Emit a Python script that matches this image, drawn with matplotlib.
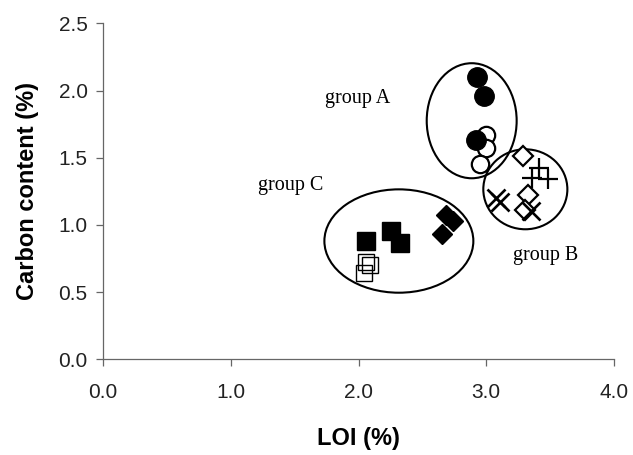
import matplotlib
matplotlib.use("Agg")
import matplotlib.pyplot as plt
from matplotlib.patches import Ellipse

# Data (LOI %, Carbon %)
a_filled_x = [2.925, 2.98, 2.92]
a_filled_y = [2.10, 1.96, 1.63]
a_open_x = [3.00, 3.00, 2.95]
a_open_y = [1.67, 1.57, 1.45]

b_diamond_x = [3.285, 3.33, 3.30]
b_diamond_y = [1.51, 1.22, 1.11]
b_plus_x = [3.413, 3.356, 3.486]
b_plus_y = [1.421, 1.351, 1.342]
b_cross_x = [3.08, 3.11, 3.35]
b_cross_y = [1.20, 1.17, 1.10]

c_fsq_x = [2.056, 2.252, 2.325]
c_fsq_y = [0.882, 0.957, 0.868]
c_fdia_x = [2.685, 2.742, 2.651]
c_fdia_y = [1.074, 1.031, 0.93]
c_osq_x = [2.058, 2.09, 2.04]
c_osq_y = [0.726, 0.70, 0.64]

# group ellipses: center x, center y, width, height
ell_centers_x = [2.886, 3.306, 2.316]
ell_centers_y = [1.775, 1.265, 0.880]
ell_widths = [0.704, 0.658, 1.166]
ell_heights = [0.856, 0.595, 0.769]

group_labels = ["group A", "group B", "group C"]
label_x = [1.74, 3.21, 1.21]
label_y = [1.94, 0.77, 1.29]

x_ticks = [0.0, 1.0, 2.0, 3.0, 4.0]
y_ticks = [0.0, 0.5, 1.0, 1.5, 2.0, 2.5]

fig = plt.figure(figsize=(6.33, 4.55), dpi=100)
ax = fig.add_axes([103/633, 1-359.3/455, (614-103)/633, (359.3-23.3)/455])
ax.set_xlim(0, 4)
ax.set_ylim(0, 2.5)

lw = 1.6
ax.plot(a_filled_x, a_filled_y, 'o', ms=14, mfc='black', mec='black', ls='none', zorder=4)
ax.plot(a_open_x, a_open_y, 'o', ms=12.5, mfc='white', mec='black', mew=lw, ls='none', zorder=3)
ax.plot(b_diamond_x, b_diamond_y, 'D', ms=10.5, mfc='white', mec='black', mew=lw, ls='none', zorder=3)
ax.plot(b_plus_x, b_plus_y, '+', ms=14, mec='black', mew=lw, ls='none', zorder=3)
ax.plot(b_cross_x, b_cross_y, 'x', ms=13, mec='black', mew=lw+0.3, ls='none', zorder=3)
ax.plot(c_fsq_x, c_fsq_y, 's', ms=12.5, mfc='black', mec='black', ls='none', zorder=3)
ax.plot(c_fdia_x, c_fdia_y, 'D', ms=10.5, mfc='black', mec='black', ls='none', zorder=3)
ax.plot(c_osq_x, c_osq_y, 's', ms=12, mfc='none', mec='black', mew=1.0, ls='none', zorder=3)

for cx, cy, w, h in zip(ell_centers_x, ell_centers_y, ell_widths, ell_heights):
    ax.add_patch(Ellipse((cx, cy), w, h, fill=False, ec='black', lw=1.5, zorder=2))

for t, tx, ty in zip(group_labels, label_x, label_y):
    ax.text(tx, ty, t, fontsize=14.5, family='Liberation Serif', ha='left', va='center')

for s in ['top', 'right']:
    ax.spines[s].set_visible(False)
for s in ['left', 'bottom']:
    ax.spines[s].set_color('#666666')
    ax.spines[s].set_linewidth(0.9)

ax.set_xticks(x_ticks)
ax.set_xticklabels([f"{v:.1f}" for v in x_ticks])
ax.set_yticks(y_ticks)
ax.set_yticklabels([f"{v:.1f}" for v in y_ticks])
ax.tick_params(direction='out', length=5, width=0.9, color='#666666',
               labelsize=15, pad=6)
for lab in ax.get_xticklabels() + ax.get_yticklabels():
    lab.set_family('Liberation Sans')
    lab.set_color('#222222')
ax.tick_params(axis='x', pad=12)

ax.set_xlabel('LOI (%)', fontsize=17, fontweight='bold', family='Liberation Sans', labelpad=18)
ax.set_ylabel('Carbon content (%)', fontsize=17, fontweight='bold', family='Liberation Sans', labelpad=14)

fig.savefig('out.png', dpi=100)
